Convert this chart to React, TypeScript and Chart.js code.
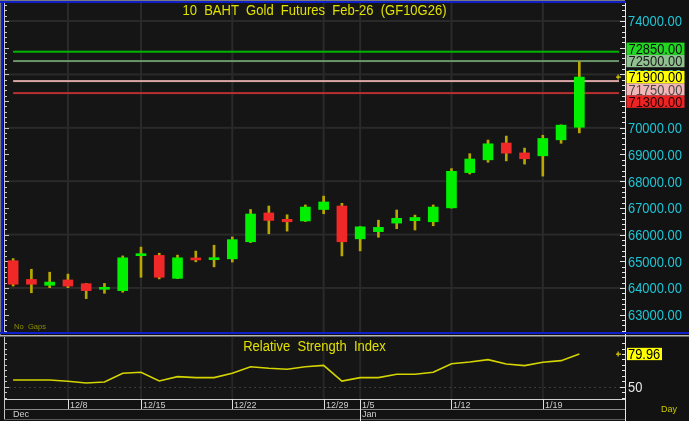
import React, { useEffect, useRef } from "react";
import { Chart, registerables } from "chart.js";

Chart.register(...registerables);

// ---------- data ----------
const dates = ["12/2","12/3","12/4","12/8","12/9","12/11","12/12","12/15","12/16","12/17","12/18","12/19","12/22","12/23","12/24","12/25","12/26","12/29","12/30","1/5","1/6","1/7","1/8","1/9","1/12","1/13","1/14","1/15","1/16","1/19","1/20","1/21"];
const opens  = [65020,64320,64100,64300,64160,63950,63900,65210,65220,64360,65110,65060,65090,65730,66810,66570,66510,66940,67070,65840,66110,66430,66520,66480,67000,68320,68800,69430,69060,68950,69550,70020];
const highs  = [65100,64700,64590,64520,64170,64170,65200,65530,65300,65230,65380,65600,65910,66940,67070,66740,67110,67440,67170,66300,66540,66920,66730,67110,68470,69030,69540,69690,69240,69720,70110,72480];
const lows   = [64070,63820,64010,64010,63600,63800,63840,64400,64340,64350,64980,64790,64970,65700,66030,66130,66490,66780,65200,65390,65900,66220,66170,66330,66990,68270,68710,68760,68640,68190,69420,69810];
const closes = [64140,64140,64220,64070,63900,64000,65130,65260,64400,65130,65050,65110,65810,66770,66530,66480,67030,67220,65730,66290,66270,66610,66640,67030,68370,68830,69400,69050,68840,69600,70100,71900];
const rsiValues = [56.1,56.1,56.1,55.0,53.4,54.3,62.3,63.2,55.2,59.2,58.3,58.3,62.3,68.3,66.9,66.0,68.3,69.6,55.2,58.3,58.3,61.4,61.4,63.2,71.1,72.7,74.8,70.8,69.3,72.4,73.9,79.96];
const emptySlots = [" ", "  "];
const weekStarts = ["12/8","12/15","12/22","12/29","1/5","1/12","1/19"];
const monthNames = ["Dec","Jan"];
const monthStarts = ["", "1/5"];
const priceTicks = [63000,64000,65000,66000,67000,68000,69000,70000,71000,72000,73000,74000];
const priceGrid = [64000,66000,68000,70000,72000,74000];
const levelValues = [72850, 72500, 71750, 71300];
const levelLineColors = ["#00b400", "#6a946a", "#d9a4a4", "#b83030"];
const levelBoxColors = ["#22d822", "#90c090", "#f2b6b6", "#ee2424"];
const levelTextColors = ["#101010", "#1c1c1c", "#4a4a4a", "#2a0000"];
const rsiTicks = [40,45,50,55,60,65,70,75,80,85,90];

const TITLE = "10  BAHT  Gold  Futures  Feb-26  (GF10G26)";
const RSI_TITLE = "Relative  Strength  Index";

const FONT = "'Liberation Sans', Arial, sans-serif";
const UP = "#00f000";
const DOWN = "#f02828";
const WICK = "#b8a800";
const CYAN = "#1fc6d6";
const YELLOW_TXT = "#e0e000";

const labels = [...dates, ...emptySlots];

function txt(ctx: CanvasRenderingContext2D, s: string, x: number, y: number, size: number, color: string, sx = 1, align = "left") {
  ctx.save();
  ctx.font = `${size}px ${FONT}`;
  ctx.fillStyle = color;
  ctx.textBaseline = "alphabetic";
  ctx.translate(x, y);
  ctx.scale(sx, 1);
  const w = ctx.measureText(s).width;
  const dx = align === "center" ? -w / 2 : align === "right" ? -w : 0;
  ctx.fillText(s, dx, 0);
  ctx.restore();
}

const mainPlugin = {
  id: "mainDecor",
  beforeDraw(chart: any) {
    const { ctx, chartArea: a, scales } = chart;
    const x = scales.x, y = scales.y;
    ctx.save();
    ctx.fillStyle = "#121212";
    ctx.fillRect(0, 0, chart.width, chart.height);
    ctx.fillStyle = "#151515";
    ctx.fillRect(a.left, a.top, a.right - a.left, a.bottom - a.top);
    // grid
    ctx.fillStyle = "#2a2a2a";
    priceGrid.forEach((v) => {
      const py = y.getPixelForValue(v);
      ctx.fillRect(a.left, py - 1, a.right - a.left, 2);
    });
    weekStarts.forEach((d) => {
      const px = x.getPixelForValue(dates.indexOf(d));
      ctx.fillRect(px - 1, a.top, 2, a.bottom - a.top);
    });
    // left axis
    ctx.fillStyle = "#c8c8c8";
    ctx.fillRect(a.left, a.top, 1, a.bottom - a.top);
    for (let v = 62400; v <= 74600; v += 200) {
      const py = Math.round(y.getPixelForValue(v));
      const major = v % 1000 === 0;
      ctx.fillRect(a.left + 1, py, major ? 4 : 2, 1);
    }
    // right axis
    ctx.fillStyle = "#e6e6e6";
    ctx.fillRect(a.right, 3, 1, chart.height - 3);
    for (let v = 62400; v <= 74600; v += 200) {
      const py = Math.round(y.getPixelForValue(v));
      const major = v % 1000 === 0;
      ctx.fillRect(a.right - (major ? 5 : 3), py, major ? 5 : 3, 1);
    }
    // tick labels
    priceTicks.forEach((v) => {
      const py = y.getPixelForValue(v);
      if (py < a.top + 4 || py > a.bottom - 4) return;
      txt(ctx, v.toFixed(2), a.right + 3, py + 5.4, 15, CYAN, 0.86);
    });
    ctx.restore();
  },
  beforeDatasetsDraw(chart: any) {
    const { ctx, chartArea: a, scales } = chart;
    const x = scales.x, y = scales.y;
    const x0 = x.getPixelForValue(0);
    const x1 = a.right - 6;
    ctx.save();
    levelValues.forEach((v, i) => {
      const py = y.getPixelForValue(v);
      ctx.fillStyle = levelLineColors[i];
      ctx.fillRect(x0, py - 1, x1 - x0, 2);
    });
    ctx.restore();
  },
  afterDraw(chart: any) {
    const { ctx, chartArea: a, scales } = chart;
    const y = scales.y;
    ctx.save();
    // title
    txt(ctx, TITLE, (a.left + a.right) / 2, 15, 14, YELLOW_TXT, 0.93, "center");
    // No Gaps
    txt(ctx, "No  Gaps", a.left + 10, a.bottom - 3, 8, "#8c8c00", 0.95);
    // label boxes
    const h = 12.3;
    const last = closes[closes.length - 1];
    const anchorY = y.getPixelForValue(last);
    const boxes = levelValues.map((v, i) => ({ i, cy: y.getPixelForValue(v) }));
    const above = boxes.filter((b) => b.cy < anchorY).sort((p, q) => q.cy - p.cy);
    const below = boxes.filter((b) => b.cy >= anchorY).sort((p, q) => p.cy - q.cy);
    let limit = anchorY - h / 2;
    above.forEach((b) => {
      if (b.cy + h / 2 > limit) b.cy = limit - h / 2;
      limit = b.cy - h / 2;
    });
    limit = anchorY + h / 2;
    below.forEach((b) => {
      if (b.cy - h / 2 < limit) b.cy = limit + h / 2;
      limit = b.cy + h / 2;
    });
    const bx = a.right + 1.5, bw = 58;
    [...above, ...below].forEach((b) => {
      ctx.fillStyle = levelBoxColors[b.i];
      ctx.fillRect(bx, b.cy - h / 2, bw, h);
      txt(ctx, levelValues[b.i].toFixed(2), bx + 2, b.cy + 5.4, 15, levelTextColors[b.i], 0.86);
    });
    ctx.fillStyle = "#ffff00";
    ctx.fillRect(bx, anchorY - h / 2, bw, h);
    txt(ctx, last.toFixed(2), bx + 2, anchorY + 5.4, 15, "#000000", 0.86);
    // + marker
    ctx.fillStyle = "#e0d000";
    const mx = a.right - 7;
    ctx.fillRect(mx - 2, Math.round(anchorY) - 0.5, 5, 1.2);
    ctx.fillRect(mx - 0.5, Math.round(anchorY) - 2.5, 1.2, 5);
    // borders
    ctx.fillStyle = "#7a7a7a";
    ctx.fillRect(0, 0, a.right, 1);
    ctx.fillRect(0, 0, 1, chart.height);
    ctx.fillStyle = "#1020c8";
    ctx.fillRect(0, 1, a.right + 1, 2);
    ctx.fillRect(1, 1, 2, a.bottom + 1);
    ctx.fillRect(0, a.bottom, chart.width, 2);
    ctx.restore();
  },
};

const rsiPlugin = {
  id: "rsiDecor",
  beforeDraw(chart: any) {
    const { ctx, chartArea: a, scales } = chart;
    const x = scales.x, y = scales.y;
    ctx.save();
    ctx.fillStyle = "#121212";
    ctx.fillRect(0, 0, chart.width, chart.height);
    ctx.fillStyle = "#b4b4b4";
    ctx.fillRect(0, 0, chart.width, 1.5);
    ctx.fillStyle = "#151515";
    ctx.fillRect(a.left, a.top, a.right - a.left, a.bottom - a.top);
    // vertical grid
    ctx.fillStyle = "#262626";
    weekStarts.forEach((d) => {
      const px = x.getPixelForValue(dates.indexOf(d));
      ctx.fillRect(px - 1, a.top, 2, a.bottom - a.top);
    });
    // dotted 50 line
    const y50 = Math.round(y.getPixelForValue(50)) + 0.5;
    ctx.strokeStyle = "#3c3c3c";
    ctx.lineWidth = 1;
    ctx.setLineDash([2, 3]);
    ctx.beginPath();
    ctx.moveTo(a.left, y50);
    ctx.lineTo(a.right, y50);
    ctx.stroke();
    ctx.setLineDash([]);
    // left axis
    ctx.fillStyle = "#c8c8c8";
    ctx.fillRect(a.left, a.top, 1, a.bottom - a.top + 20);
    rsiTicks.forEach((v) => {
      const py = Math.round(y.getPixelForValue(v));
      ctx.fillRect(a.left + 1, py, v === 50 ? 4 : 2, 1);
    });
    // right axis
    ctx.fillStyle = "#e6e6e6";
    ctx.fillRect(a.right, 0, 1, chart.height);
    rsiTicks.forEach((v) => {
      const py = Math.round(y.getPixelForValue(v));
      const major = v === 50;
      ctx.fillRect(a.right - (major ? 5 : 3), py, major ? 5 : 3, 1);
    });
    // bottom date axis
    ctx.fillStyle = "#d0d0d0";
    ctx.fillRect(a.left, a.bottom, a.right - a.left, 1);
    ctx.fillStyle = "#8a8a8a";
    ctx.fillRect(a.left, a.bottom + 10, a.right - a.left, 1);
    ctx.fillStyle = "#5a5a5a";
    ctx.fillRect(a.left, a.bottom + 20, a.right - a.left, 1);
    weekStarts.forEach((d) => {
      const px = Math.round(x.getPixelForValue(dates.indexOf(d)));
      const isMonth = monthStarts.indexOf(d) >= 0;
      ctx.fillStyle = "#e0e0e0";
      ctx.fillRect(px, a.bottom, 1, isMonth ? chart.height - a.bottom : 10);
      txt(ctx, d, px + 2, a.bottom + 8.8, 9, "#cfcfcf");
    });
    monthNames.forEach((m, i) => {
      const d = monthStarts[i];
      const px = d ? Math.round(x.getPixelForValue(dates.indexOf(d))) + 2 : a.left + 9;
      txt(ctx, m, px, a.bottom + 17.5, 9, "#cfcfcf");
    });
    ctx.restore();
  },
  afterDraw(chart: any) {
    const { ctx, chartArea: a, scales } = chart;
    const y = scales.y;
    ctx.save();
    txt(ctx, RSI_TITLE, (a.left + a.right) / 2, 16.3, 14, YELLOW_TXT, 0.93, "center");
    const last = rsiValues[rsiValues.length - 1];
    const ly = y.getPixelForValue(last);
    ctx.fillStyle = "#ffff00";
    ctx.fillRect(a.right + 2, ly - 6.2, 35, 12.3);
    txt(ctx, last.toFixed(2), a.right + 3, ly + 5.4, 15, "#000000", 0.86);
    const y50 = y.getPixelForValue(50);
    txt(ctx, "50", a.right + 3, y50 + 5.4, 15, "#e8e8e8", 0.86);
    ctx.fillStyle = "#e0d000";
    const mx = a.right - 7;
    ctx.fillRect(mx - 2, Math.round(ly) - 0.5, 5, 1.2);
    ctx.fillRect(mx - 0.5, Math.round(ly) - 2.5, 1.2, 5);
    txt(ctx, "Day", a.right + 36, a.bottom + 12.5, 9, "#c8c800");
    ctx.restore();
  },
};

export default function App() {
  const mainRef = useRef<HTMLCanvasElement>(null);
  const rsiRef = useRef<HTMLCanvasElement>(null);

  useEffect(() => {
    document.body.style.margin = "0";
    document.body.style.background = "#121212";
    const bodies = dates.map((_, i) => [opens[i], closes[i]]);
    const wicks = dates.map((_, i) => [lows[i], highs[i]]);
    const colors = dates.map((_, i) => (closes[i] >= opens[i] ? UP : DOWN));

    const main = new Chart(mainRef.current!, {
      type: "bar",
      data: {
        labels,
        datasets: [
          { label: "body", data: bodies as any, backgroundColor: colors, barThickness: 10, minBarLength: 2, grouped: false, order: 0, borderWidth: 0 } as any,
          { label: "wick", data: wicks as any, backgroundColor: WICK, barThickness: 2, grouped: false, order: 1, borderWidth: 0 } as any,
        ],
      },
      options: {
        responsive: false,
        animation: false,
        layout: { padding: { left: 4, right: 64, top: 3, bottom: 3 } },
        plugins: { legend: { display: false }, tooltip: { enabled: false } },
        scales: {
          x: { type: "category", display: false, offset: true },
          y: { type: "linear", display: false, min: 62350, max: 74675 },
        },
      } as any,
      plugins: [mainPlugin],
    });

    const rsi = new Chart(rsiRef.current!, {
      type: "line",
      data: {
        labels,
        datasets: [
          { label: "RSI", data: rsiValues, borderColor: "#d4d400", borderWidth: 1.6, pointRadius: 0, tension: 0, fill: false },
        ],
      },
      options: {
        responsive: false,
        animation: false,
        layout: { padding: { left: 4, right: 64, top: 2, bottom: 22 } },
        plugins: { legend: { display: false }, tooltip: { enabled: false } },
        scales: {
          x: { type: "category", display: false, offset: true },
          y: { type: "linear", display: false, min: 38.7, max: 95.6 },
        },
      } as any,
      plugins: [rsiPlugin],
    });

    return () => {
      main.destroy();
      rsi.destroy();
    };
  }, []);

  return (
    <div style={{ position: "relative", width: 689, height: 421, background: "#121212" }}>
      <canvas ref={mainRef} width={689} height={335} style={{ position: "absolute", left: 0, top: 0, display: "block" }} />
      <canvas ref={rsiRef} width={689} height={86} style={{ position: "absolute", left: 0, top: 335, display: "block" }} />
    </div>
  );
}
